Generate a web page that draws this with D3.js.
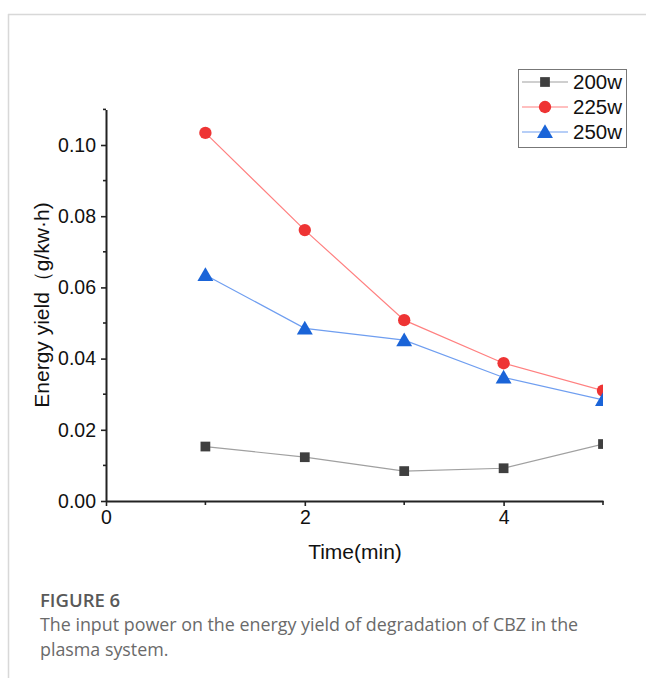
<!DOCTYPE html>
<html lang="en">
<head>
<meta charset="utf-8">
<title>Energy yield vs time</title>
<script src="https://d3js.org/d3.v7.min.js"></script>
<style>
  body { margin: 0; background: #fff; }
  svg { display: block; }
</style>
</head>
<body>
<script>
// data
var times = [1, 2, 3, 4, 5];
var series = ["200w", "225w", "250w"];
var y200 = [0.0153, 0.0123, 0.0084, 0.0092, 0.0160];
var y225 = [0.1034, 0.0761, 0.0508, 0.0387, 0.0310];
var y250 = [0.0635, 0.0485, 0.0452, 0.0347, 0.0284];
var xTicks = [0, 2, 4];
var yTicks = [0, 0.02, 0.04, 0.06, 0.08, 0.10];

var W = 646, H = 678;
var svg = d3.select("body").append("svg").attr("width", W).attr("height", H);

// page frame
svg.append("line").attr("x1", 8).attr("x2", W).attr("y1", 14.5).attr("y2", 14.5)
  .attr("stroke", "#d8d8d8").attr("stroke-width", 1.5);
svg.append("line").attr("x1", 8.5).attr("x2", 8.5).attr("y1", 14).attr("y2", H)
  .attr("stroke", "#d8d8d8").attr("stroke-width", 1.5);

var x = d3.scaleLinear().domain([0, 5]).range([106, 603]);
var y = d3.scaleLinear().domain([0, 0.11]).range([501, 109.4]);

var axisFont = "Arial, 'Liberation Sans', sans-serif";

// x axis
var gx = svg.append("g").attr("transform", "translate(0," + y(0) + ")")
  .call(d3.axisBottom(x).tickValues(xTicks).tickFormat(d3.format("d")).tickSize(5).tickSizeOuter(0));
gx.append("g").selectAll("line").data([1, 3, 5]).enter().append("line")
  .attr("x1", function(d){ return x(d); }).attr("x2", function(d){ return x(d); })
  .attr("y1", 0).attr("y2", 4).attr("stroke", "#222").attr("stroke-width", 1.6);

// y axis
var gy = svg.append("g").attr("transform", "translate(" + x(0) + ",0)")
  .call(d3.axisLeft(y).tickValues(yTicks).tickFormat(d3.format(".2f")).tickSize(5).tickSizeOuter(0));
gy.append("g").selectAll("line").data([0.01, 0.03, 0.05, 0.07, 0.09, 0.11]).enter().append("line")
  .attr("y1", function(d){ return y(d); }).attr("y2", function(d){ return y(d); })
  .attr("x1", 0).attr("x2", -3).attr("stroke", "#222").attr("stroke-width", 1.6);

[gx, gy].forEach(function(g){
  g.select(".domain").attr("stroke", "#222").attr("stroke-width", 2);
  g.selectAll(".tick line").attr("stroke", "#222").attr("stroke-width", 1.6);
  g.selectAll(".tick text").attr("font-family", axisFont).attr("font-size", "19.5px").attr("fill", "#111");
});
gx.selectAll(".tick text").attr("dy", "0.85em").attr("y", 6);
gy.selectAll(".tick text").attr("x", -10);

// axis titles
svg.append("text")
  .attr("x", 355).attr("y", 559)
  .attr("text-anchor", "middle")
  .attr("font-family", axisFont).attr("font-size", "21px").attr("fill", "#111")
  .text("Time(min)");
svg.append("text")
  .attr("transform", "translate(49,305) rotate(-90)")
  .attr("text-anchor", "middle")
  .attr("font-family", axisFont).attr("font-size", "21px").attr("fill", "#111")
  .text("Energy yield（g/kw·h)");

// series
var defs = svg.append("defs");
defs.append("clipPath").attr("id", "plotclip").append("rect")
  .attr("x", x(0)).attr("y", 0).attr("width", x(5) - x(0)).attr("height", y(0));

var cfg = [
  { name: series[0], vals: y200, line: "#a0a0a0", fill: "#3f3f3f", sym: d3.symbolSquare, size: 95 },
  { name: series[1], vals: y225, line: "#ff8080", fill: "#ee3434", sym: d3.symbolCircle, size: 120 },
  { name: series[2], vals: y250, line: "#6f9ef0", fill: "#1a64d8", sym: d3.symbolTriangle, size: 110 }
];

var line = d3.line()
  .x(function(d){ return x(d[0]); })
  .y(function(d){ return y(d[1]); });

var plot = svg.append("g").attr("clip-path", "url(#plotclip)");
cfg.forEach(function(s){
  var pts = times.map(function(t, i){ return [t, s.vals[i]]; });
  plot.append("path").datum(pts).attr("d", line)
    .attr("fill", "none").attr("stroke", s.line).attr("stroke-width", 1.2);
  plot.selectAll(null).data(pts).enter().append("path")
    .attr("d", d3.symbol().type(s.sym).size(s.size))
    .attr("transform", function(d){
      var dy = s.sym === d3.symbolTriangle ? 1.5 : 0;
      return "translate(" + x(d[0]) + "," + (y(d[1]) + dy) + ")";
    })
    .attr("fill", s.fill);
});

// legend
var lg = svg.append("g");
lg.append("rect").attr("x", 518.5).attr("y", 69.5).attr("width", 108).attr("height", 78)
  .attr("fill", "#fff").attr("stroke", "#777").attr("stroke-width", 1);
cfg.forEach(function(s, i){
  var ly = 82 + i * 25;
  lg.append("line").attr("x1", 522).attr("x2", 568).attr("y1", ly).attr("y2", ly)
    .attr("stroke", s.line).attr("stroke-width", 1.2);
  lg.append("path").attr("d", d3.symbol().type(s.sym).size(s.size))
    .attr("transform", "translate(545," + (ly + (s.sym === d3.symbolTriangle ? 1.5 : 0)) + ")")
    .attr("fill", s.fill);
  lg.append("text").attr("x", 573).attr("y", ly + 7)
    .attr("font-family", axisFont).attr("font-size", "20.5px").attr("fill", "#111")
    .text(s.name);
});

// caption
var capFont = "'Open Sans', 'Noto Sans', sans-serif";
svg.append("text").attr("x", 40).attr("y", 607)
  .attr("font-family", capFont).attr("font-size", "18.5px").attr("font-weight", 600)
  .attr("fill", "#595959")
  .text("FIGURE 6");
svg.append("text").attr("x", 40).attr("y", 631)
  .attr("font-family", capFont).attr("font-size", "17.85px").attr("fill", "#6a6a6a")
  .text("The input power on the energy yield of degradation of CBZ in the");
svg.append("text").attr("x", 40).attr("y", 656)
  .attr("font-family", capFont).attr("font-size", "17.85px").attr("fill", "#6a6a6a")
  .text("plasma system.");
</script>
</body>
</html>
